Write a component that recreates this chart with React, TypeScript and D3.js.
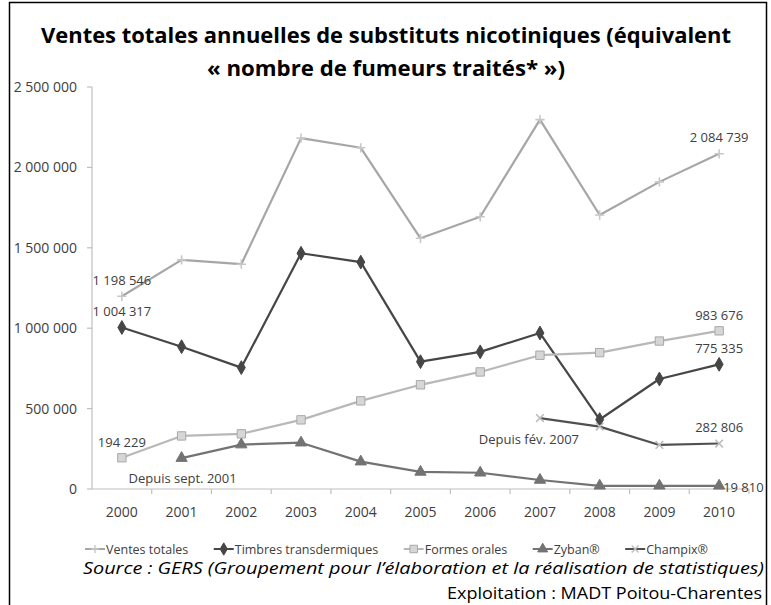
import React, { useEffect, useRef } from "react";
import * as d3 from "d3";

const years = ["2000", "2001", "2002", "2003", "2004", "2005", "2006", "2007", "2008", "2009", "2010"];
const ventesTotales = [1198546, 1425000, 1398000, 2182000, 2122000, 1559000, 1693000, 2297000, 1704000, 1910000, 2084739];
const timbres = [1004317, 885000, 755000, 1466000, 1411000, 792000, 853000, 970000, 432000, 684000, 775335];
const formesOrales = [194229, 330000, 343000, 430000, 548000, 648000, 728000, 832000, 848000, 920000, 983676];
const zyban = [null, 192000, 276000, 288000, 170000, 106000, 101000, 56000, 20000, 20000, 19810];
const champix = [null, null, null, null, null, null, null, 441000, 388000, 274000, 282806];
const yTicks = [0, 500000, 1000000, 1500000, 2000000, 2500000];

const FONT = "'Open Sans', sans-serif";

const fmt = (v: number) => d3.format(",")(v).replace(/,/g, " ");

const App = () => {
  const svgRef = useRef<SVGSVGElement>(null);

  useEffect(() => {
    const width = 771;
    const height = 605;
    const plot = { left: 92, right: 749, top: 87, bottom: 489 };

    const svg = d3.select(svgRef.current)
      .attr("width", width)
      .attr("height", height)
      .attr("font-family", FONT);
    svg.selectAll("*").remove();

    const x = d3.scaleBand().domain(years).range([plot.left, plot.right]);
    const cx = (yr: string) => (x(yr) as number) + x.bandwidth() / 2;
    const y = d3.scaleLinear().domain([0, 2500000]).range([plot.bottom, plot.top]);

    svg.append("rect")
      .attr("width", width).attr("height", height).attr("fill", "#fff");

    // titre
    const title = svg.append("g")
      .attr("font-weight", "bold")
      .attr("font-size", 22).attr("text-anchor", "middle").attr("fill", "#000");
    title.append("text").attr("x", 386).attr("y", 43)
      .attr("textLength", 690).attr("lengthAdjust", "spacingAndGlyphs")
      .text("Ventes totales annuelles de substituts nicotiniques (équivalent");
    title.append("text").attr("x", 386).attr("y", 76)
      .attr("textLength", 358).attr("lengthAdjust", "spacingAndGlyphs")
      .text("« nombre de fumeurs traités* »)");

    // axes
    const axisColor = "#bfbfbf";
    svg.append("line")
      .attr("x1", plot.left).attr("x2", plot.left)
      .attr("y1", plot.top).attr("y2", plot.bottom)
      .attr("stroke", axisColor).attr("stroke-width", 1.2);
    svg.append("line")
      .attr("x1", plot.left).attr("x2", plot.right)
      .attr("y1", plot.bottom).attr("y2", plot.bottom)
      .attr("stroke", axisColor).attr("stroke-width", 1.2);

    const yAx = svg.append("g");
    yTicks.forEach(t => {
      yAx.append("line")
        .attr("x1", plot.left - 5).attr("x2", plot.left)
        .attr("y1", y(t)).attr("y2", y(t))
        .attr("stroke", axisColor).attr("stroke-width", 1.2);
      yAx.append("text")
        .attr("x", 77).attr("y", y(t) + 5)
        .attr("text-anchor", "end")
        .attr("font-size", 14)
        .attr("fill", "#404040")
        .text(fmt(t));
    });

    const xAx = svg.append("g");
    years.forEach((yr, i) => {
      const bx = x(yr) as number;
      if (i > 0) {
        xAx.append("line")
          .attr("x1", bx).attr("x2", bx)
          .attr("y1", plot.bottom).attr("y2", plot.bottom + 5)
          .attr("stroke", axisColor).attr("stroke-width", 1.2);
      }
      xAx.append("text")
        .attr("x", cx(yr)).attr("y", 517)
        .attr("text-anchor", "middle")
        .attr("font-size", 14)
        .attr("fill", "#404040")
        .text(yr);
    });
    xAx.append("line")
      .attr("x1", plot.right).attr("x2", plot.right)
      .attr("y1", plot.bottom).attr("y2", plot.bottom + 5)
      .attr("stroke", axisColor).attr("stroke-width", 1.2);

    const series = [
      { name: "Ventes totales", values: ventesTotales, line: "#a6a6a6", symbol: d3.symbolPlus, size: 30, fill: "none", stroke: "#c8c8c8" },
      { name: "Timbres transdermiques", values: timbres, line: "#464646", symbol: d3.symbolDiamond, size: 55, fill: "#464646", stroke: "#464646" },
      { name: "Formes orales", values: formesOrales, line: "#b8b8b8", symbol: d3.symbolSquare, size: 70, fill: "#d6d6d6", stroke: "#a8a8a8" },
      { name: "Zyban®", values: zyban, line: "#737373", symbol: d3.symbolTriangle, size: 55, fill: "#737373", stroke: "#737373" },
      { name: "Champix®", values: champix, line: "#505050", symbol: d3.symbolTimes, size: 40, fill: "none", stroke: "#bdbdbd" },
    ];

    const line = d3.line<number | null>()
      .defined(d => d !== null)
      .x((d, i) => cx(years[i]))
      .y(d => y(d as number));

    series.forEach(s => {
      svg.append("path")
        .datum(s.values)
        .attr("fill", "none")
        .attr("stroke", s.line)
        .attr("stroke-width", 2.2)
        .attr("stroke-linejoin", "round")
        .attr("d", line);
      const sym = d3.symbol().type(s.symbol).size(s.size);
      s.values.forEach((v, i) => {
        if (v === null) return;
        svg.append("path")
          .attr("d", sym())
          .attr("transform", `translate(${cx(years[i])},${y(v)})`)
          .attr("fill", s.fill)
          .attr("stroke", s.stroke)
          .attr("stroke-width", s.fill === "none" ? 1.6 : 1);
      });
    });

    // étiquettes
    const labels = svg.append("g").attr("fill", "#404040");
    const last = years.length - 1;
    const addLabel = (i: number, v: number, dx: number, dy: number, anchor: string, txt?: string) => {
      labels.append("text")
        .attr("x", cx(years[i]) + dx).attr("y", y(v) + dy)
        .attr("text-anchor", anchor)
        .attr("font-size", 13)
        .text(txt || fmt(v));
    };
    addLabel(0, ventesTotales[0], 0, -11, "middle");
    addLabel(0, timbres[0], 0, -12, "middle");
    addLabel(0, formesOrales[0], 0, -11, "middle");
    addLabel(last, ventesTotales[last], 0, -12, "middle");
    addLabel(last, formesOrales[last], 0, -11, "middle");
    addLabel(last, timbres[last], 0, -11, "middle");
    addLabel(last, champix[last] as number, 0, -12, "middle");
    addLabel(last, zyban[last] as number, 4, 6, "start");
    addLabel(1, zyban[1] as number, 1, 25, "middle", "Depuis sept. 2001");
    addLabel(7, champix[7] as number, -11, 26, "middle", "Depuis fév. 2007");

    // légende
    const leg = svg.append("g").attr("font-size", 12.5).attr("fill", "#404040");
    const items = series.map(s => {
      const g = leg.append("g");
      g.append("line").attr("x1", 0).attr("x2", 20).attr("y1", 0).attr("y2", 0)
        .attr("stroke", s.line).attr("stroke-width", 2);
      g.append("path").attr("d", d3.symbol().type(s.symbol).size(s.size * 0.8)())
        .attr("transform", "translate(10,0)")
        .attr("fill", s.fill).attr("stroke", s.stroke)
        .attr("stroke-width", s.fill === "none" ? 1.4 : 1);
      const t = g.append("text").attr("x", 21).attr("y", 4.5).text(s.name);
      const w = 21 + (t.node() as SVGTextElement).getComputedTextLength();
      return { g, w };
    });
    const total = d3.sum(items, d => d.w);
    const gap = Math.max(8, (708 - 85 - total) / (items.length - 1));
    let lx = 85;
    items.forEach(it => {
      it.g.attr("transform", `translate(${lx},549)`);
      lx += it.w + gap;
    });

    // source
    svg.append("text")
      .attr("x", 83).attr("y", 574)
      .attr("font-style", "italic")
      .attr("font-size", 17).attr("fill", "#000")
      .attr("textLength", 681).attr("lengthAdjust", "spacingAndGlyphs")
      .text("Source : GERS (Groupement pour l’élaboration et la réalisation de statistiques)");
    svg.append("text")
      .attr("x", 762).attr("y", 599)
      .attr("text-anchor", "end")
      .attr("font-size", 17).attr("fill", "#000")
      .attr("textLength", 315).attr("lengthAdjust", "spacingAndGlyphs")
      .text("Exploitation : MADT Poitou-Charentes");

    // cadre
    svg.append("rect")
      .attr("x", 9.5).attr("y", 2.5).attr("width", 757).attr("height", 620)
      .attr("fill", "none").attr("stroke", "#000").attr("stroke-width", 1.5);
  }, []);

  return <svg ref={svgRef} style={{ position: "absolute", left: 0, top: 0 }}></svg>;
};

export default App;
